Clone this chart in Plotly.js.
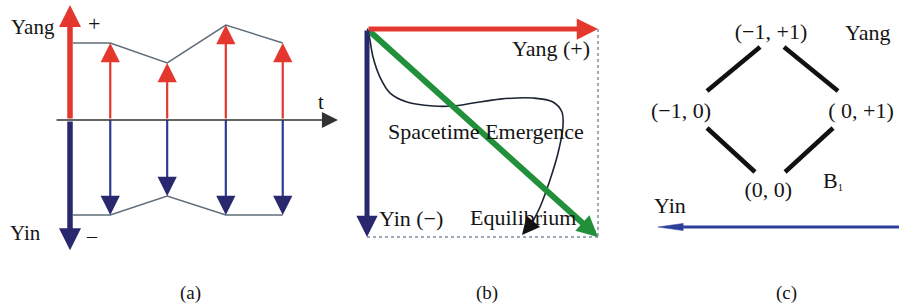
<!DOCTYPE html>
<html><head><meta charset="utf-8">
<script src="https://cdn.plot.ly/plotly-3.0.1.min.js"></script>
<style>html,body{margin:0;padding:0;background:#fff;}#chart{width:899px;height:303px;}</style>
</head><body><div id="chart"></div>
<script>
// ---------- Panel (a): Yin / Yang oscillation along t ----------
const tSteps      = [0.7, 1.69, 2.71, 3.7];
const yangValues  = [0.81, 0.6, 1.0, 0.81];
const yinValues   = [-1.0, -0.8, -1.0, -1.0];
const envelopeT   = [0.05, 0.7, 1.69, 2.71, 3.7];
const envelopeYang = [0.81, 0.81, 0.6, 1.0, 0.81];
const envelopeYin  = [-1.0, -1.0, -0.8, -1.0, -1.0];
const axisYangTip = 1.21;
const axisYinTip  = -1.37;
const timeAxisT   = [-0.26, 4.66];

// ---------- Panel (b): Yang / Yin axes and emergence path ----------
const bYangEnd  = [1, 0];
const bYinEnd   = [0, 1];
const bEquilEnd = [1, 1];
const pathU = [0.004, 0.026, 0.056, 0.100, 0.173, 0.286, 0.372, 0.459, 0.576, 0.719, 0.805, 0.844, 0.848, 0.827, 0.792, 0.749, 0.714];
const pathW = [0.005, 0.135, 0.231, 0.308, 0.351, 0.370, 0.370, 0.356, 0.337, 0.332, 0.351, 0.399, 0.471, 0.596, 0.726, 0.856, 0.933];
const pathTip = [0.671, 0.99];

// ---------- Panel (c): lattice B1 ----------
const latticeLabels = ['(\u22121, +1)', '(\u22121, 0)', '( 0, +1)', '(0, 0)'];
const latticeP = [0, -1, 1, -0.03];
const latticeQ = [0.99, 0, 0, -0.99];
const edgeP = [[-0.711, -0.122], [0.144, 0.744], [-0.711, -0.178], [0.156, 0.689]];
const edgeQ = [[0.269, 0.819], [0.819, 0.269], [-0.194, -0.744], [-0.744, -0.194]];
const yinArrowP = [1.45, -1.256];
const yinArrowQ = -1.431;

const captions = ['(a)', '(b)', '(c)'];

// ---------- styling ----------
const W = 899, H = 303;
const SERIF = '"Liberation Serif", "Times New Roman", serif';
const TXT = '#151515';
const RED = '#e4382f', NAVY = '#29286e', BLUE = '#2f3a94', GREEN = '#22903a';
const P = (px, py) => ({x: px / W, y: 1 - py / H});

function arrow(xr, yr, from, to, color, width, size, head) {
  return {xref: xr, yref: yr, axref: xr, ayref: yr,
    x: to[0], y: to[1], ax: from[0], ay: from[1], text: '',
    showarrow: true, arrowhead: head || 2, arrowsize: size, arrowwidth: width,
    arrowcolor: color, standoff: 0, startstandoff: 0};
}
function label(text, px, py, size) {
  const p = P(px, py);
  return {xref: 'paper', yref: 'paper', x: p.x, y: p.y, text: text, showarrow: false,
    xanchor: 'center', yanchor: 'middle', font: {family: SERIF, size: size, color: TXT}};
}

const traces = [];
const annotations = [];

// Panel (a)
traces.push({x: envelopeT, y: envelopeYang, xaxis: 'x', yaxis: 'y', mode: 'lines',
  line: {color: '#5f6e7a', width: 1.5}, hoverinfo: 'skip'});
traces.push({x: envelopeT, y: envelopeYin, xaxis: 'x', yaxis: 'y', mode: 'lines',
  line: {color: '#5f6e7a', width: 1.5}, hoverinfo: 'skip'});
const shaftX = [], shaftY = [];
tSteps.forEach((t, i) => { shaftX.push(t, t, null); shaftY.push(0, yinValues[i] + 0.1, null); });
traces.push({x: shaftX, y: shaftY, xaxis: 'x', yaxis: 'y', mode: 'lines',
  line: {color: BLUE, width: 2.2}, hoverinfo: 'skip'});

annotations.push(arrow('x', 'y', [timeAxisT[0], 0], [timeAxisT[1], 0], '#333', 1.6, 2.0, 2));
annotations.push(arrow('x', 'y', [0, 0], [0, axisYangTip], RED, 5.5, 0.8, 2));
annotations.push(arrow('x', 'y', [0, 0], [0, axisYinTip], NAVY, 5.5, 0.8, 2));
tSteps.forEach((t, i) => {
  annotations.push(arrow('x', 'y', [t, 0], [t, yangValues[i]], RED, 2.2, 1.75, 2));
  annotations.push(arrow('x', 'y', [t, yinValues[i] + 0.2], [t, yinValues[i]], NAVY, 2.2, 1.75, 2));
});
annotations.push(label('Yang', 33, 27, 21));
annotations.push(label('+', 94, 24, 22));
annotations.push(label('Yin', 25, 233, 21));
annotations.push(label('\u2013', 92, 236, 20));
annotations.push(label('t', 321, 102, 21));

// Panel (b)
traces.push({x: [bYangEnd[0], bEquilEnd[0], null, bYinEnd[0], bEquilEnd[0]],
  y: [bYangEnd[1], bEquilEnd[1], null, bYinEnd[1], bEquilEnd[1]],
  xaxis: 'x2', yaxis: 'y2', mode: 'lines',
  line: {color: '#7f8ea0', width: 1.5, dash: 'dot'}, hoverinfo: 'skip'});
traces.push({x: [0].concat(pathU), y: [0].concat(pathW), xaxis: 'x2', yaxis: 'y2', mode: 'lines',
  line: {color: '#1c2433', width: 1.6, shape: 'spline', smoothing: 1}, hoverinfo: 'skip'});
annotations.push(arrow('x2', 'y2', [pathU[pathU.length - 1], pathW[pathW.length - 1]], pathTip, '#111', 1.6, 2.2, 2));
annotations.push(arrow('x2', 'y2', [0, 0], bEquilEnd, GREEN, 6, 0.7, 2));
annotations.push(arrow('x2', 'y2', [0, 0], bYangEnd, RED, 5, 0.85, 2));
annotations.push(arrow('x2', 'y2', [0, 0], bYinEnd, NAVY, 5, 0.85, 2));
annotations.push(label('Yang (+)', 551, 49, 22));
annotations.push(label('Spacetime Emergence', 486, 132, 22));
annotations.push(label('Yin (\u2212)', 411, 218, 22));
annotations.push(label('Equilibrium', 523, 217, 22));

// Panel (c)
const eX = [], eY = [];
edgeP.forEach((e, i) => { eX.push(e[0], e[1], null); eY.push(edgeQ[i][0], edgeQ[i][1], null); });
traces.push({x: eX, y: eY, xaxis: 'x3', yaxis: 'y3', mode: 'lines',
  line: {color: '#111', width: 4.5}, hoverinfo: 'skip'});
traces.push({x: latticeP, y: latticeQ, text: latticeLabels, xaxis: 'x3', yaxis: 'y3', mode: 'text',
  textposition: 'middle center', textfont: {family: SERIF, size: 22, color: TXT}, hoverinfo: 'skip'});
const headLen = 0.28, headHalf = 0.045;
traces.push({x: [yinArrowP[0], yinArrowP[1] + headLen], y: [yinArrowQ, yinArrowQ], xaxis: 'x3', yaxis: 'y3',
  mode: 'lines', line: {color: '#2d3f9a', width: 3}, hoverinfo: 'skip'});
traces.push({x: [yinArrowP[1], yinArrowP[1] + headLen, yinArrowP[1] + headLen, yinArrowP[1]],
  y: [yinArrowQ, yinArrowQ + headHalf, yinArrowQ - headHalf, yinArrowQ],
  xaxis: 'x3', yaxis: 'y3', mode: 'lines', fill: 'toself', fillcolor: '#2d3f9a',
  line: {color: '#2d3f9a', width: 0.5}, hoverinfo: 'skip'});
annotations.push(label('Yang', 867, 33, 22));
annotations.push(label('B<span style="font-size:15px"><sub>1</sub></span>', 833, 180, 22));
annotations.push(label('Yin', 670, 205, 22));

// captions
[190, 487, 786].forEach((px, i) => annotations.push(label(captions[i], px, 293, 19)));

const hidden = {visible: false, fixedrange: true};
const layout = {
  width: W, height: H, margin: {l: 0, r: 0, t: 0, b: 0},
  paper_bgcolor: '#fff', plot_bgcolor: 'rgba(0,0,0,0)', showlegend: false,
  xaxis:  Object.assign({domain: [0, 340 / W], range: [-1.2174, 4.6957]}, hidden),
  yaxis:  Object.assign({domain: [0, 1], range: [-1.9263, 1.2632], anchor: 'x'}, hidden),
  xaxis2: Object.assign({domain: [340 / W, 620 / W], range: [-0.1169, 1.0952], anchor: 'y2'}, hidden),
  yaxis2: Object.assign({domain: [0, 1], range: [1.3173, -0.1394], anchor: 'x2'}, hidden),
  xaxis3: Object.assign({domain: [620 / W, 1], range: [-1.678, 1.422], anchor: 'y3'}, hidden),
  yaxis3: Object.assign({domain: [0, 1], range: [-2.381, 1.406], anchor: 'x3'}, hidden),
  annotations: annotations
};
Plotly.newPlot('chart', traces, layout, {displayModeBar: false, staticPlot: true});
</script></body></html>
